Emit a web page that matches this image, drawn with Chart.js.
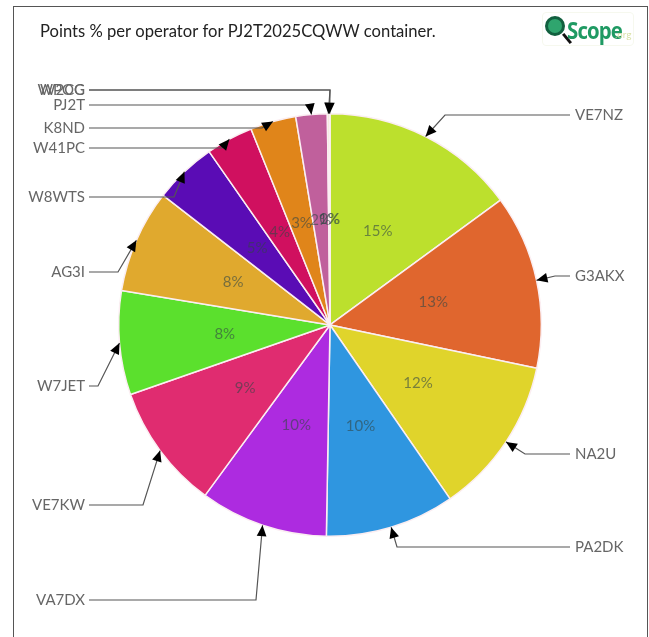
<!DOCTYPE html>
<html>
<head>
<meta charset="utf-8">
<style>
  html, body { margin: 0; padding: 0; background: #fff; overflow: hidden; }
  #wrap { position: relative; width: 649px; height: 637px; overflow: hidden; }
  #frame { position: absolute; left: 13px; top: 6px; width: 633px; height: 650px; border: 1px solid #555; }
  #chart { position: absolute; left: 0; top: 0; }
  #logo { position: absolute; left: 542px; top: 12px; width: 90px; height: 32px; border: 1px solid #f6f8ee; border-radius: 4px;
    font-family: "Liberation Sans Narrow", "Open Sans", sans-serif; color: #1f9a63; }
  #logo .lens { position: absolute; left: 2px; top: 3px; width: 14px; height: 14px; border: 3px solid #12603f; border-radius: 50%; background: #2fa56e; }
  #logo .handle { position: absolute; left: 18px; top: 24px; width: 12px; height: 3px; background: #111; transform: rotate(50deg); }
  #logo .word { position: absolute; left: 24px; top: 0; font-size: 24px; font-weight: bold; letter-spacing: -1px; transform: scaleX(.85); transform-origin: left top; }
  #logo .org { position: absolute; left: 72px; top: 15px; font-size: 9px; color: #d5dd9c; }
</style>
</head>
<body>
<div id="wrap">
  <div id="frame"></div>
  <canvas id="chart" width="649" height="637"></canvas>
  <div id="logo"><div class="lens"></div><div class="handle"></div><div class="word">Scope</div><div class="org">.org</div></div>
</div>
<script src="https://cdn.jsdelivr.net/npm/chart.js@4"></script>
<script>
var titleText = "Points % per operator for PJ2T2025CQWW container."
var operators = ["VE7NZ", "G3AKX", "NA2U", "PA2DK", "VA7DX", "VE7KW", "W7JET", "AG3I", "W8WTS", "W41PC", "K8ND", "PJ2T", "W2CG", "WPOG"]
var points = [14.95, 13.35, 12.1, 9.9, 9.8, 9.6, 7.95, 7.9, 4.8, 3.6, 3.5, 2.4, 0.15, 0.05]
var percentLabels = ["15%", "13%", "12%", "10%", "10%", "9%", "8%", "8%", "5%", "4%", "3%", "2%", "1%", "0%"]
var sliceColors = ["#bce02d", "#e0662e", "#e0d42b", "#2f96e0", "#ad2be0", "#e02c70", "#5be02d", "#e0a92e", "#5a0cb5", "#d0105f", "#e0851a", "#c0609c", "#d8e0a0", "#e0c0d0"]

// where each name sits and where its leader bends
var labelY = [115, 276, 454, 547, 600, 505, 386, 272, 197, 148, 128, 105, 90, 90]
var elbowX = [445, 555, 525, 397, 256, 143, 98, 118, 174, 222, 262, 310, 330, 330]

var leaderPlugin = {
  id: "leaders",
  afterDatasetsDraw: function (chart) {
    var ctx = chart.ctx
    var arcs = chart.getDatasetMeta(0).data
    ctx.save()
    ctx.font = "15px Lato"
    ctx.textBaseline = "middle"
    for (var i = 0; i < arcs.length; i++) {
      var a = arcs[i].getProps(["x", "y", "startAngle", "endAngle", "outerRadius"], true)
      var mid = (a.startAngle + a.endAngle) / 2
      var tipX = a.x + Math.cos(mid) * a.outerRadius
      var tipY = a.y + Math.sin(mid) * a.outerRadius
      var right = tipX > a.x + 10
      var textX = right ? 570 : 89

      // percent inside the slice
      ctx.fillStyle = "rgba(50,70,70,0.6)"
      ctx.textAlign = "center"
      ctx.fillText(percentLabels[i], a.x + Math.cos(mid) * a.outerRadius * 0.5, a.y + Math.sin(mid) * a.outerRadius * 0.5)

      // leader with arrow head
      ctx.strokeStyle = "#555"
      ctx.lineWidth = 1.2
      ctx.beginPath()
      ctx.moveTo(textX, labelY[i])
      ctx.lineTo(elbowX[i], labelY[i])
      ctx.lineTo(tipX, tipY)
      ctx.stroke()
      var dir = Math.atan2(tipY - labelY[i], tipX - elbowX[i])
      ctx.fillStyle = "#000"
      ctx.beginPath()
      ctx.moveTo(tipX, tipY)
      ctx.lineTo(tipX - 12 * Math.cos(dir - 0.42), tipY - 12 * Math.sin(dir - 0.42))
      ctx.lineTo(tipX - 12 * Math.cos(dir + 0.42), tipY - 12 * Math.sin(dir + 0.42))
      ctx.closePath()
      ctx.fill()

      // operator name
      ctx.fillStyle = "#666"
      ctx.textAlign = right ? "left" : "right"
      ctx.fillText(operators[i], right ? 575 : 85, labelY[i])
    }
    ctx.restore()
  }
}

new Chart(document.getElementById("chart").getContext("2d"), {
  type: "pie",
  data: {
    labels: operators,
    datasets: [{
      data: points,
      backgroundColor: sliceColors,
      borderColor: "#fbeef2",
      borderWidth: 1.5
    }]
  },
  options: {
    responsive: false,
    animation: false,
    layout: { padding: { left: 40, right: 29, top: 0, bottom: 100 } },
    plugins: {
      legend: { display: false },
      tooltip: { enabled: false },
      title: {
        display: true,
        text: titleText,
        align: "start",
        fullSize: false,
        color: "#222",
        font: { family: "Lato", size: 16.6, weight: "normal" },
        padding: { top: 22, bottom: 71 }
      }
    }
  },
  plugins: [leaderPlugin]
})
</script>
</body>
</html>
